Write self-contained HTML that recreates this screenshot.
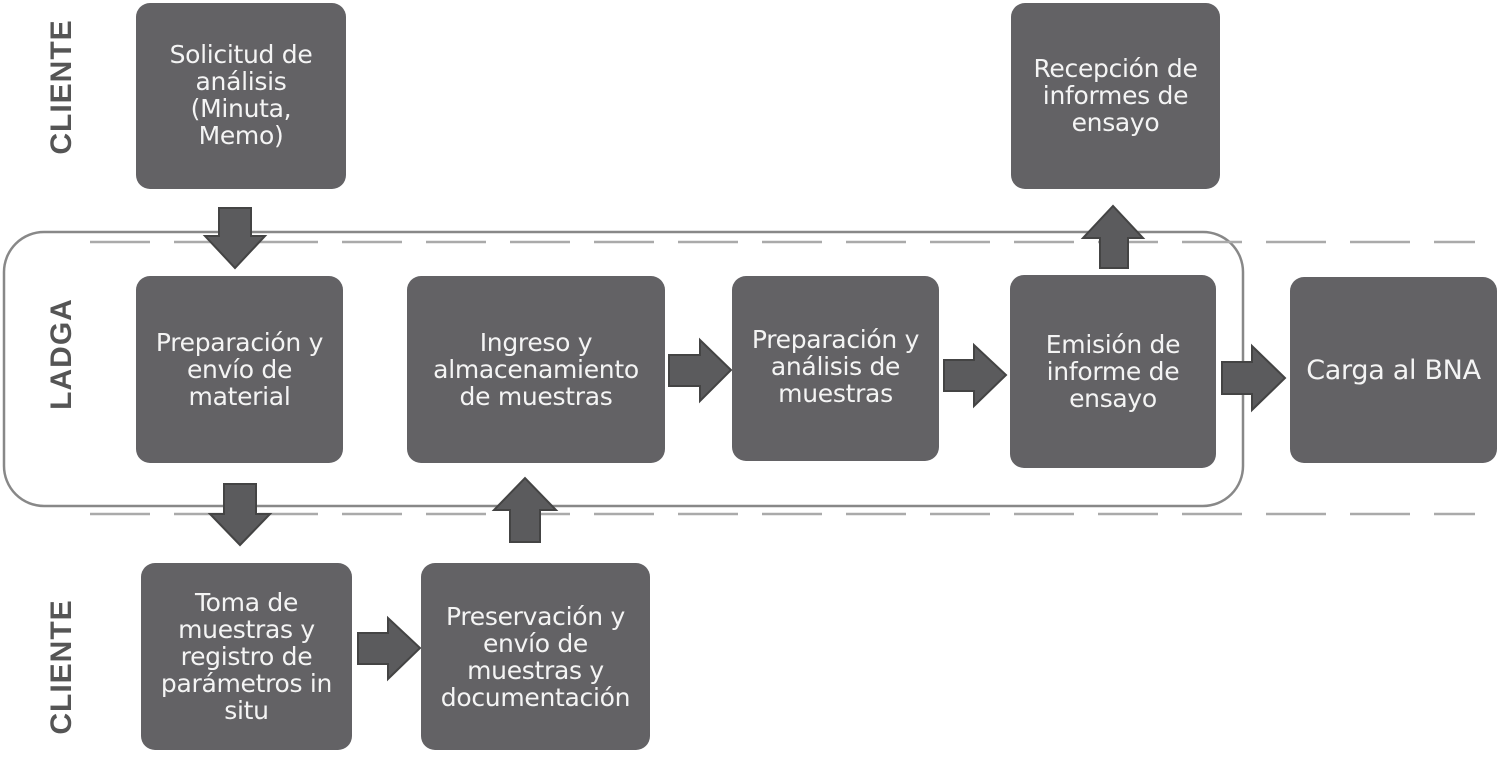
<!DOCTYPE html>
<html><head><meta charset="utf-8"><style>
body{margin:0;width:1500px;height:772px;background:#fff;position:relative;overflow:hidden;font-family:"DejaVu Sans","Liberation Sans",sans-serif}
.b{position:absolute;background:#636265;border-radius:14px;color:#f4f4f4;display:flex;align-items:center;justify-content:center;text-align:center;font-size:25px;line-height:27px;letter-spacing:-0.3px}
.lab{position:absolute;font-family:"Liberation Sans",sans-serif;font-weight:bold;font-size:30px;color:#555;transform:rotate(-90deg);transform-origin:center;white-space:nowrap;width:200px;text-align:center;letter-spacing:1px}
svg{position:absolute;left:0;top:0}
</style></head><body>
<svg width="1500" height="772">
<rect x="4" y="232" width="1239" height="274" rx="40" fill="none" stroke="#888" stroke-width="2.5"/>
<line x1="90" y1="242" x2="1475" y2="242" stroke="#aaa" stroke-width="2.5" stroke-dasharray="60,24"/>
<line x1="90" y1="514" x2="1475" y2="514" stroke="#aaa" stroke-width="2.5" stroke-dasharray="60,24"/>
<g fill="#5b5b5d" stroke="#444" stroke-width="2">
<polygon points="219,208 251,208 251,236 265,236 235,268 205,236 219,236"/>
<polygon points="224,484 256,484 256,514 270,514 240,545 210,514 224,514"/>
<polygon points="510,542 540,542 540,510 556,510 525,478 494,510 510,510"/>
<polygon points="1100,268 1128,268 1128,238 1143,238 1113,206 1083,238 1100,238"/>
<polygon points="669,355 700,355 700,340 731,370 700,401 700,386 669,386"/>
<polygon points="944,360 974,360 974,345 1006,375 974,406 974,391 944,391"/>
<polygon points="1222,362 1252,362 1252,346 1285,378 1252,410 1252,394 1222,394"/>
<polygon points="358,633 388,633 388,618 420,648 388,679 388,664 358,664"/>
</g>
</svg>
<div class="lab" style="left:-38px;top:70px">CLIENTE</div>
<div class="lab" style="left:-38px;top:337px">LADGA</div>
<div class="lab" style="left:-38px;top:650px">CLIENTE</div>
<div class="b" style="left:136px;top:3px;width:210px;height:186px;align-items:flex-start"><div style="margin-top:38px">Solicitud de<br>análisis<br>(Minuta,<br>Memo)</div></div>
<div class="b" style="left:1011px;top:3px;width:209px;height:186px;align-items:flex-start"><div style="margin-top:52px">Recepción de<br>informes de<br>ensayo</div></div>
<div class="b" style="left:136px;top:276px;width:207px;height:187px">Preparación y<br>envío de<br>material</div>
<div class="b" style="left:407px;top:276px;width:258px;height:187px">Ingreso y<br>almacenamiento<br>de muestras</div>
<div class="b" style="left:732px;top:276px;width:207px;height:185px;align-items:flex-start"><div style="margin-top:50px">Preparación y<br>análisis de<br>muestras</div></div>
<div class="b" style="left:1010px;top:275px;width:206px;height:193px">Emisión de<br>informe de<br>ensayo</div>
<div class="b" style="left:1290px;top:277px;width:207px;height:186px;font-size:27px">Carga al BNA</div>
<div class="b" style="left:141px;top:563px;width:211px;height:187px">Toma de<br>muestras y<br>registro de<br>parámetros in<br>situ</div>
<div class="b" style="left:421px;top:563px;width:229px;height:187px">Preservación y<br>envío de<br>muestras y<br>documentación</div>
</body></html>
